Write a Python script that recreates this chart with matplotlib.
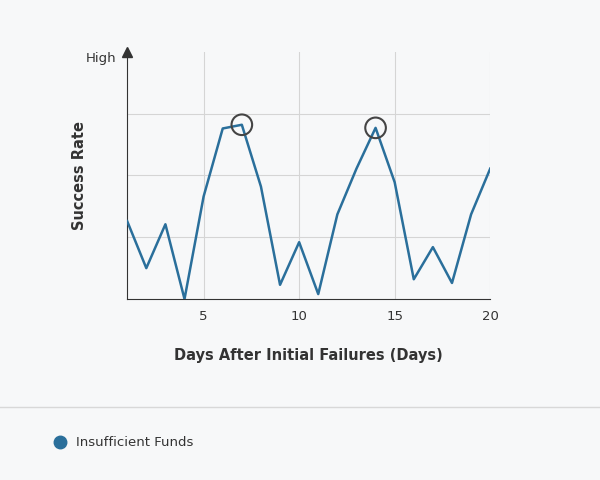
import matplotlib.pyplot as plt
from matplotlib.lines import Line2D

days = list(range(1, 21))
rate = [1.26, 0.5, 1.21, 0.0, 1.66, 2.76, 2.82, 1.82, 0.23, 0.92,
        0.08, 1.37, 2.11, 2.77, 1.89, 0.32, 0.84, 0.26, 1.37, 2.11]
peaks = [7, 14]
x_ticks = [5, 10, 15, 20]
series_name = "Insufficient Funds"

bg = "#f7f8f9"
line_c = "#2a6f9b"
txt = "#333333"

fig = plt.figure(figsize=(6, 4.8), dpi=100, facecolor=bg)
ax = fig.add_axes([0.212, 0.377, 0.605, 0.515])
ax.set_facecolor(bg)
ax.set_xlim(1, 20)
ax.set_ylim(0, 4)

for v in [1, 2, 3]:
    ax.axhline(v, color="#d5d5d5", lw=0.8, zorder=0)
for v in x_ticks:
    ax.axvline(v, color="#d5d5d5", lw=0.8, zorder=0)

ax.plot(days, rate, color=line_c, lw=1.8, zorder=3)
peak_y = [rate[days.index(p)] for p in peaks]
ax.scatter(peaks, peak_y, s=220, facecolors="none", edgecolors="#444444",
           linewidths=1.5, zorder=4)

for s in ["top", "right"]:
    ax.spines[s].set_visible(False)
ax.spines["left"].set_color("#333333")
ax.spines["bottom"].set_color("#333333")
ax.plot(1, 4, marker="^", color="#333333", markersize=7, clip_on=False,
        transform=ax.transData, zorder=5)

ax.set_xticks(x_ticks)
ax.set_yticks([3.92])
ax.set_yticklabels(["High"])
ax.tick_params(length=0, labelsize=9.5, colors=txt, pad=8)
ax.set_xlabel("Days After Initial Failures (Days)", fontsize=10.5,
              fontweight="bold", color=txt, labelpad=18)
ax.set_ylabel("Success Rate", fontsize=10.5, fontweight="bold", color=txt)
ax.yaxis.set_label_coords(-0.11, 0.5)

fig.add_artist(Line2D([0, 1], [1 - 407 / 480] * 2, color="#d8d8d8", lw=1))
fig.add_artist(Line2D([0.1], [1 - 442 / 480], marker="o", color=line_c,
                      markersize=9, linestyle="none"))
fig.text(0.127, 1 - 442 / 480, series_name, fontsize=9.5, color=txt, va="center")

fig.savefig("out.png", facecolor=bg)
